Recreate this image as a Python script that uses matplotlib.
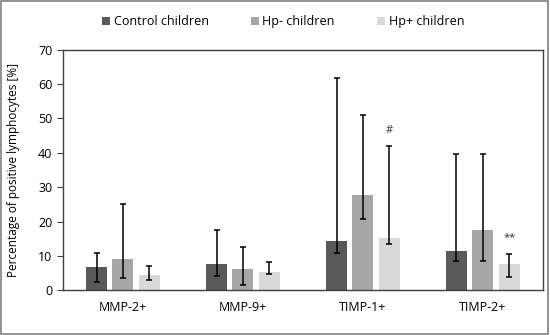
import matplotlib
matplotlib.use("Agg")
import matplotlib.pyplot as plt
import numpy as np
from matplotlib.patches import Rectangle

categories = ["MMP-2+", "MMP-9+", "TIMP-1+", "TIMP-2+"]
series_names = ["Control children", "Hp- children", "Hp+ children"]
means = [
    [6.7, 7.6, 14.4, 11.5],
    [9.0, 6.3, 27.8, 17.6],
    [4.4, 5.4, 15.2, 7.6],
]
err_low = [
    [2.3, 4.2, 10.9, 8.4],
    [3.7, 1.5, 20.7, 8.6],
    [3.0, 4.6, 13.5, 4.0],
]
err_high = [
    [10.9, 17.6, 61.6, 39.6],
    [25.0, 12.5, 50.9, 39.6],
    [7.2, 8.2, 41.9, 10.5],
]
annotations = [(2, 2, "#", 45.0), (3, 2, "**", 13.8)]  # (category, series, text, y)
colors = ["#595959", "#a6a6a6", "#d9d9d9"]

plt.rcParams['font.family'] = ['Open Sans', 'DejaVu Sans']

fig = plt.figure(figsize=(5.5, 3.35), dpi=100)
ax = fig.add_axes([0.1145, 0.1334, 0.8725, 0.7186])

x = np.arange(len(categories))
width = 0.175
offsets = [-0.22, 0.0, 0.22]
for i in range(3):
    m = np.array(means[i])
    lo = m - np.array(err_low[i])
    hi = np.array(err_high[i]) - m
    ax.bar(x + offsets[i], m, width, color=colors[i], label=series_names[i], zorder=2)
    ax.errorbar(x + offsets[i], m, yerr=[lo, hi], fmt='none', ecolor='black',
                elinewidth=1.1, capsize=2.5, capthick=1.1, zorder=3)

for ci, si, txt, yv in annotations:
    ax.text(x[ci] + offsets[si], yv, txt, ha='center', va='bottom', fontsize=8, color='#333333')

ax.set_xlim(-0.5, 3.5)
ax.set_ylim(0, 70)
ax.set_yticks(np.arange(0, 71, 10))
ax.set_xticks(x)
ax.set_xticklabels(categories, fontsize=9)
ax.tick_params(axis='x', length=0, pad=8)
ax.tick_params(axis='y', labelsize=9, length=4, direction='out', color='#404040')
for s in ax.spines.values():
    s.set_color('#404040')
    s.set_linewidth(1.0)
ax.set_ylabel("Percentage of positive lymphocytes [%]", fontsize=8.5)
ax.yaxis.set_label_coords(-0.09, 0.5)

handles, labels = ax.get_legend_handles_labels()
fig.legend(handles, labels, loc='center', bbox_to_anchor=(0.515, 0.935), ncol=3,
           frameon=False, fontsize=9, handlelength=0.6, handleheight=0.6,
           handletextpad=0.3, columnspacing=3.4)

fig.patches.append(Rectangle((0.002, 0.003), 0.995, 0.993, transform=fig.transFigure,
                             fill=False, edgecolor='#808080', linewidth=1.2))

fig.savefig("out.png", dpi=100)
